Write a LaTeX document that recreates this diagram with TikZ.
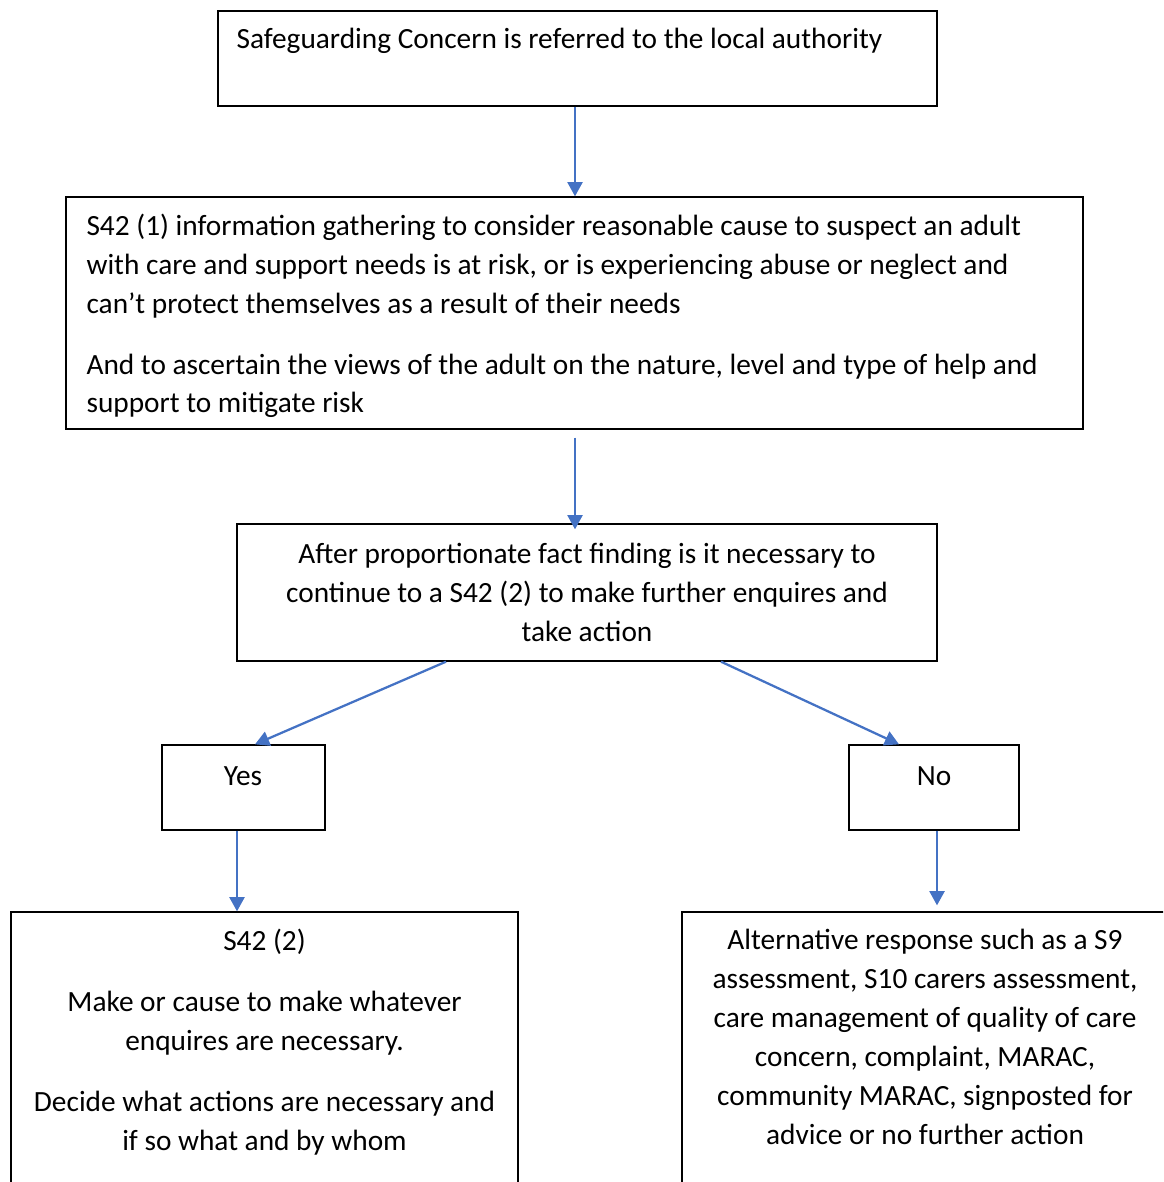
\documentclass[tikz,border=0pt]{standalone}
\usepackage{fontspec}
\setmainfont{Carlito}
\usetikzlibrary{arrows.meta,fit}
\definecolor{arrowblue}{RGB}{68,114,196}
\begin{document}
\begin{tikzpicture}[x=0.375pt,y=-0.375pt,
  box/.style={draw=black,line width=0.5pt,inner sep=0pt},
  conn/.style={draw=arrowblue,line width=0.85pt,-{Triangle[length=5.3pt,width=5.6pt]}},
  txt/.style={font=\fontsize{11}{14.6}\selectfont,inner sep=0pt}]
\useasboundingbox (0,0) rectangle (1163,1182);
\clip (0,0) rectangle (1163,1182);
% boxes
\node[box,fit={(218,11)(937,106)}] (b1) {};
\node[box,fit={(66,197)(1083,429)}] (b2) {};
\node[box,fit={(237,524)(937,661)}] (b3) {};
\node[box,fit={(162,745)(325,830)}] (yes) {};
\node[box,fit={(849,745)(1019,830)}] (no) {};
\node[box,fit={(11,912)(518,1260)}] (b4) {};
\node[box,fit={(682,912)(1168,1260)}] (b5) {};
% texts
\node[txt,anchor=base west] (t1) at (236,49) {Safeguarding Concern is referred to the local authority};
\node[txt,anchor=base west,align=left] (t2) at (86,413) {S42 (1) information gathering to consider reasonable cause to suspect an adult\\with care and support needs is at risk, or is experiencing abuse or neglect and\\can’t protect themselves as a result of their needs\\[8pt]And to ascertain the views of the adult on the nature, level and type of help and\\support to mitigate risk};
\node[txt,anchor=base,align=center] (t3) at (587,641) {After proportionate fact finding is it necessary to\\continue to a S42 (2) to make further enquires and\\take action};
\node[txt,anchor=base] (tyes) at (243,785) {Yes};
\node[txt,anchor=base] (tno) at (934,785) {No};
\node[txt,anchor=base,align=center] (t4) at (264.5,1150) {S42 (2)\\[8.5pt]Make or cause to make whatever\\enquires are necessary.\\[8pt]Decide what actions are necessary and\\if so what and by whom};
\node[txt,anchor=base,align=center] (t5) at (925,1144) {Alternative response such as a S9\\assessment, S10 carers assessment,\\care management of quality of care\\concern, complaint, MARAC,\\community MARAC, signposted for\\advice or no further action};
% connectors
\draw[conn] (575,0 |- b1.south) -- (575,0 |- b2.north);
\draw[conn,shorten <=3pt,shorten >=-2.25pt] (575,0 |- b2.south) -- (575,0 |- b3.north);
\draw[conn] (446,0 |- b3.south) -- (255,0 |- yes.north);
\draw[conn] (721,0 |- b3.south) -- (899,0 |- no.north);
\draw[conn] (237,0 |- yes.south) -- (237,0 |- b4.north);
\draw[conn,shorten >=2.25pt] (937,0 |- no.south) -- (937,0 |- b5.north);
\end{tikzpicture}
\end{document}
